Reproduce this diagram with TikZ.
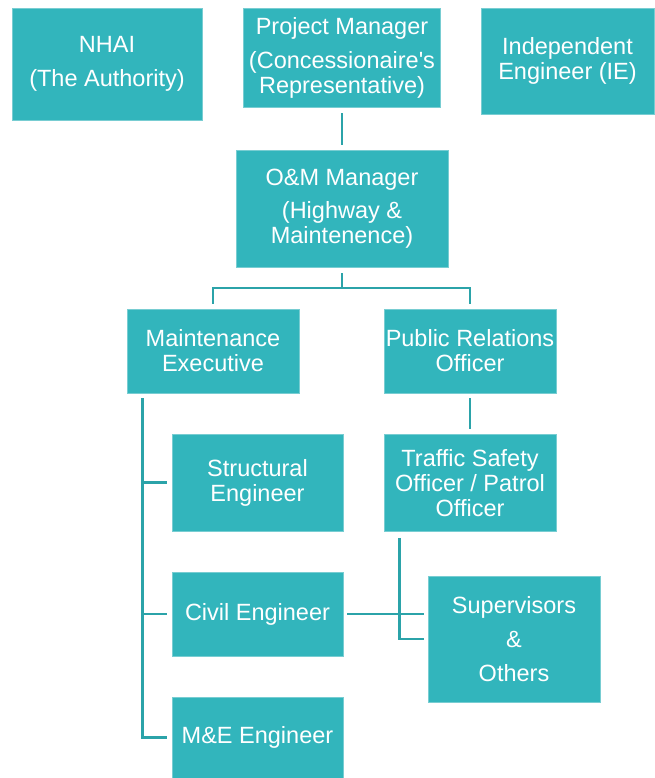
\documentclass[tikz,border=0pt]{standalone}
\usepackage{fontspec}
\newfontfamily\lsans{Liberation Sans}
\definecolor{boxc}{RGB}{50,181,188}
\definecolor{edgec}{RGB}{120,205,210}
\definecolor{linec}{RGB}{43,163,169}
\begin{document}
\begin{tikzpicture}[x=1pt,y=-1pt,
  box/.style={rectangle, fill=boxc, draw=edgec, line width=0.8pt, inner sep=0pt,
    text=white, align=center, font=\lsans\fontsize{23.5}{25}\selectfont},
  conn/.style={draw=linec, line width=2.8pt}]
\useasboundingbox (0,0) rectangle (654,778);
% top row
\node[box, minimum width=190, minimum height=112] (nhai) at (107,64) {NHAI\\[9pt](The Authority)};
\node[box, minimum width=197, minimum height=99] (pm) at (342,57.5) {Project Manager\\[9pt](Concessionaire's\\Representative)};
\node[box, minimum width=173, minimum height=106] (ie) at (567.5,61) {Independent\\Engineer (IE)};
% second level
\node[box, minimum width=212, minimum height=117] (om) at (342,208.5) {O\&M Manager\\[8pt](Highway \&\\Maintenence)};
% third level
\node[box, minimum width=172, minimum height=84] (mexec) at (213,351) {Maintenance\\Executive};
\node[box, minimum width=172, minimum height=84] (pro) at (470,351) {Public Relations\\Officer};
% engineers
\node[box, minimum width=171, minimum height=97] (se) at (257.5,482.5) {Structural\\Engineer};
\node[box, minimum width=171, minimum height=84] (ce) at (257.5,614) {Civil Engineer};
\node[box, minimum width=171, minimum height=81] (mee) at (257.5,737.5) {M\&E Engineer};
% right branch
\node[box, minimum width=172, minimum height=97] (tso) at (470,483) {Traffic Safety\\Officer / Patrol\\Officer};
\node[box, minimum width=172, minimum height=126] (sup) at (514,639) {Supervisors\\[9pt]\&\\[9pt]Others};
% connectors
\draw[conn] ([yshift=-6]pm.south) -- ([yshift=5]om.north);
\coordinate (bus) at (342,288);
\draw[conn] ([yshift=-6]om.south) -- (om.south |- bus);
\draw[conn] ([yshift=5]mexec.north) |- (bus) -| ([yshift=5]pro.north);
\coordinate (spine) at ([xshift=16,yshift=-5]mexec.south west);
\draw[conn] (spine) |- ([xshift=-5]mee.west);
\draw[conn] ([xshift=-5]se.west) -- (se.west -| spine);
\draw[conn] ([xshift=-5]ce.west) -- (ce.west -| spine);
\draw[conn] ([yshift=-5]pro.south) -- ([yshift=5]tso.north);
\draw[conn] ([xshift=16,yshift=-6]tso.south west) |- ([xshift=-4]sup.west);
\draw[conn] ([xshift=4]ce.east) -- ([xshift=-4]ce.east -| sup.west);
\end{tikzpicture}
\end{document}
